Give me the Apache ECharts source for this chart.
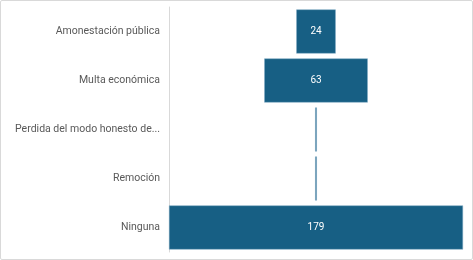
<!DOCTYPE html>
<html><head><meta charset="utf-8">
<script src="https://cdn.jsdelivr.net/npm/echarts@6/dist/echarts.min.js"></script>
<style>
html,body{margin:0;padding:0;background:#fff;}
#c{position:absolute;left:0;top:0;width:471px;height:258px;border:1px solid #d9d9d9;border-radius:2px;}
</style></head>
<body><div id="c"></div>
<script>
const categories = ["Amonestación pública","Multa económica","Perdida del modo honesto de...","Remoción","Ninguna"];
const values = [24, 63, 1, 1, 179];
const maxV = Math.max.apply(null, values);
const offsets = values.map(v => (maxV - v) / 2);

const chart = echarts.init(document.getElementById('c'), null, {renderer:'canvas'});
chart.setOption({
  animation:false,
  grid:{left:168, right:9, top:6, bottom:7, containLabel:false},
  xAxis:{type:'value', min:0, max:maxV, show:false},
  yAxis:{type:'category', data:categories, inverse:true,
    axisLine:{show:true, lineStyle:{color:'#d9d9d9', width:1}},
    axisTick:{show:false},
    axisLabel:{color:'#595959', fontSize:10.5, fontFamily:'Roboto', margin:9}
  },
  series:[
    {type:'bar', stack:'f', data:offsets, itemStyle:{color:'transparent'}, barCategoryGap:'10%', silent:true},
    {type:'bar', stack:'f', data:values, barCategoryGap:'10%',
      itemStyle:{color:'#175F84', borderColor:'#7fa9c4', borderWidth:0.5},
      label:{show:true, position:'inside', color:'#ffffff', fontSize:10, fontFamily:'Roboto',
        formatter: p => p.value >= 5 ? String(p.value) : ''}
    }
  ]
});
</script></body></html>
